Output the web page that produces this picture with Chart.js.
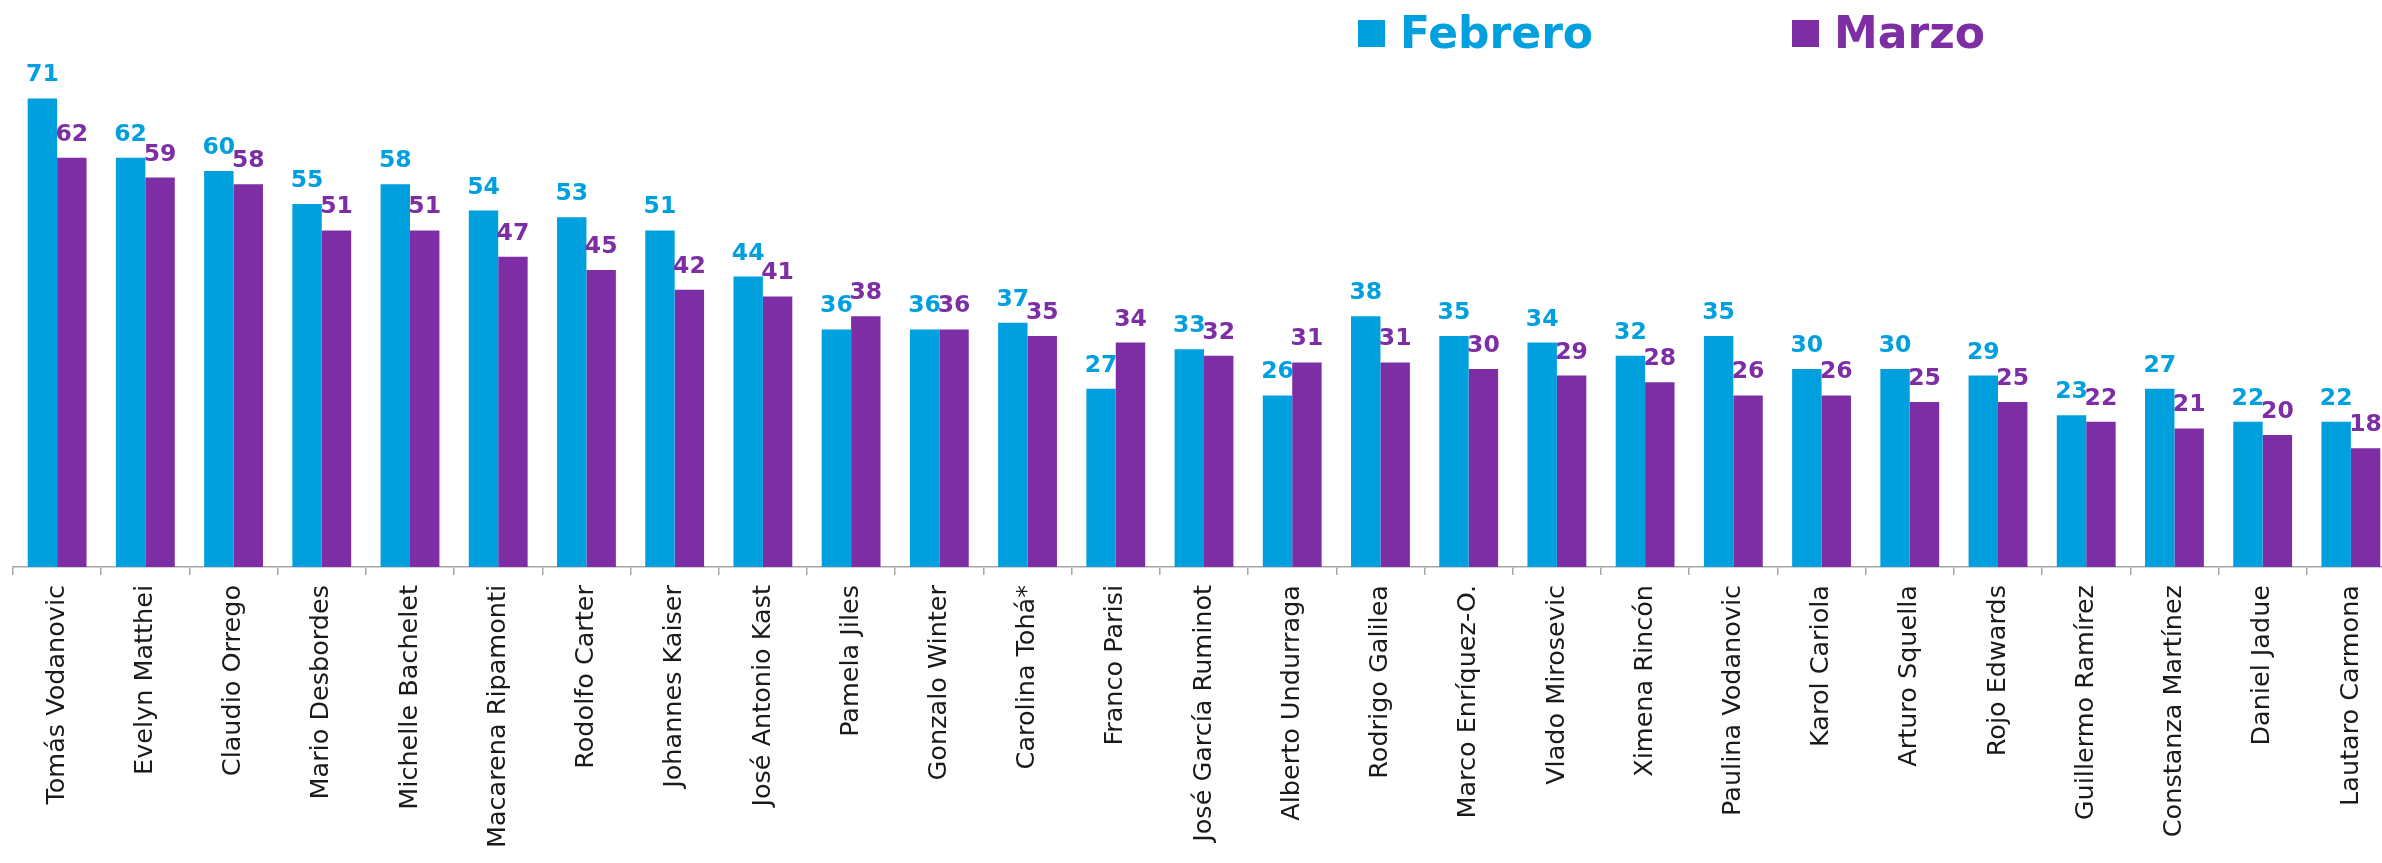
<!DOCTYPE html>
<html>
<head>
<meta charset="utf-8">
<script src="https://cdn.jsdelivr.net/npm/chart.js@4.4.1/dist/chart.umd.min.js"></script>
<style>
html,body{margin:0;padding:0;overflow:hidden;background:#ffffff;}
#wrap{width:2400px;height:863px;position:relative;}
</style>
</head>
<body>
<div id="wrap"><canvas id="c"></canvas></div>
<script>
const categories = [
  'Tomás Vodanovic','Evelyn Matthei','Claudio Orrego','Mario Desbordes','Michelle Bachelet',
  'Macarena Ripamonti','Rodolfo Carter','Johannes Kaiser','José Antonio Kast','Pamela Jiles',
  'Gonzalo Winter','Carolina Tohá*','Franco Parisi','José García Ruminot','Alberto Undurraga',
  'Rodrigo Galilea','Marco Enríquez-O.','Vlado Mirosevic','Ximena Rincón','Paulina Vodanovic',
  'Karol Cariola','Arturo Squella','Rojo Edwards','Guillermo Ramírez','Constanza Martínez',
  'Daniel Jadue','Lautaro Carmona'
];
const febrero = [71,62,60,55,58,54,53,51,44,36,36,37,27,33,26,38,35,34,32,35,30,30,29,23,27,22,22];
const marzo   = [62,59,58,51,51,47,45,42,41,38,36,35,34,32,31,31,30,29,28,26,26,25,25,22,21,20,18];
const seriesNames = ['Febrero','Marzo'];

const BLUE = '#00A0DF';
const PURPLE = '#7D2EA4';
const FONT = '"DejaVu Sans", sans-serif';

const valueLabels = {
  id: 'valueLabels',
  afterDatasetsDraw(chart) {
    const ctx = chart.ctx;
    ctx.save();
    ctx.font = 'bold 23.5px ' + FONT;
    ctx.textAlign = 'center';
    ctx.textBaseline = 'alphabetic';
    chart.data.datasets.forEach((ds, i) => {
      const meta = chart.getDatasetMeta(i);
      ctx.fillStyle = ds.backgroundColor;
      meta.data.forEach((bar, j) => {
        ctx.fillText(String(ds.data[j]), bar.x, bar.y - 17);
      });
    });
    ctx.restore();
  }
};

const legendX = [1358, 1792];
const customLegend = {
  id: 'customLegend',
  afterDraw(chart) {
    const ctx = chart.ctx;
    ctx.save();
    chart.data.datasets.forEach((ds, i) => {
      const x = legendX[i];
      ctx.fillStyle = ds.backgroundColor;
      ctx.fillRect(x, 20, 27, 27);
      ctx.font = 'bold 44px ' + FONT;
      ctx.textAlign = 'left';
      ctx.textBaseline = 'alphabetic';
      ctx.fillText(ds.label, x + 42, 48);
    });
    ctx.restore();
  }
};

new Chart(document.getElementById('c'), {
  type: 'bar',
  data: {
    labels: categories,
    datasets: [
      { label: seriesNames[0], data: febrero, backgroundColor: BLUE, borderWidth: 0,
        categoryPercentage: 0.667, barPercentage: 1.0 },
      { label: seriesNames[1], data: marzo, backgroundColor: PURPLE, borderWidth: 0,
        categoryPercentage: 0.667, barPercentage: 1.0 }
    ]
  },
  options: {
    responsive: true,
    maintainAspectRatio: false,
    animation: false,
    devicePixelRatio: 1,
    layout: { padding: { left: 13, right: 5, top: 72, bottom: 0 } },
    plugins: { legend: { display: false }, tooltip: { enabled: false } },
    scales: {
      x: {
        grid: { display: true, drawOnChartArea: false, drawTicks: true, tickLength: 8,
                color: '#A6A6A6', offset: true, lineWidth: 1.5 },
        border: { display: true, color: '#A6A6A6', width: 1.5 },
        ticks: { autoSkip: false, minRotation: 90, maxRotation: 90, padding: 10,
                 color: '#1a1a1a', font: { family: FONT, size: 25.5 } },
        afterFit(scale) { scale.height = 296; }
      },
      y: { display: false, min: 0, max: 75 }
    }
  },
  plugins: [valueLabels, customLegend]
});
</script>
</body>
</html>
